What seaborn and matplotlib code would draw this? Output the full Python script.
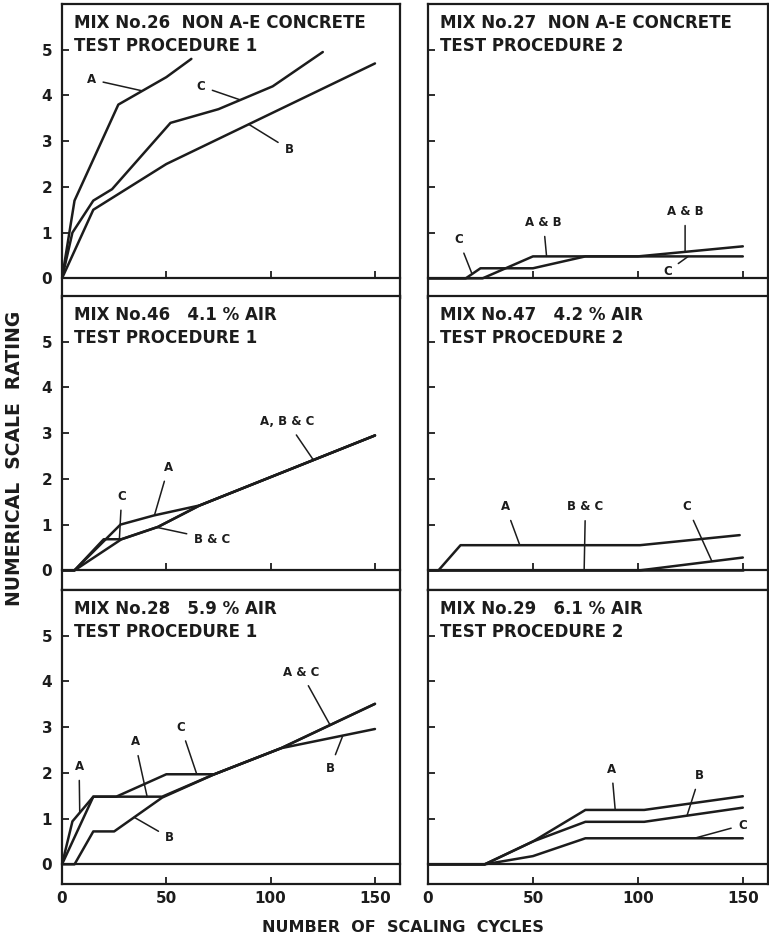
import numpy as np
import matplotlib
matplotlib.use("Agg")
import matplotlib.pyplot as plt
import seaborn as sns

# Scaling rating vs. number of freeze-thaw cycles, as (cycles, rating) pairs.
# Mix 26 - non air-entrained concrete, test procedure 1
mix26_a = [(0, 0), (6, 1.7), (27, 3.8), (50, 4.4), (56, 4.6), (62, 4.8)]
mix26_b = [(0, 0), (15, 1.5), (50, 2.5), (150, 4.7)]
mix26_c = [(0, 0), (5, 1.0), (15, 1.7), (24, 1.95), (52, 3.4), (75, 3.7), (101, 4.2), (125, 4.95)]

# Mix 27 - non air-entrained concrete, test procedure 2 (A and B coincide)
mix27_ab = [(0, 0), (26, 0), (50, 0.48), (100, 0.48), (150, 0.7)]
mix27_c = [(0, 0), (18, 0), (25, 0.22), (50, 0.22), (75, 0.48), (150, 0.48)]

# Mix 46 - 4.1 % air, test procedure 1
mix46_a = [(0, 0), (6, 0), (28, 1.0), (44, 1.2), (66, 1.42), (150, 2.95)]
mix46_b = [(0, 0), (6, 0), (28.5, 0.68), (46, 0.95), (66, 1.42), (150, 2.95)]
mix46_c = [(0, 0), (6, 0), (20, 0.68), (28.5, 0.68), (46, 0.95), (66, 1.42), (150, 2.95)]

# Mix 47 - 4.2 % air, test procedure 2
mix47_a = [(0, 0), (5, 0), (15.5, 0.55), (101, 0.55), (148.5, 0.77)]
mix47_b = [(0, 0), (150, 0)]
mix47_c = [(0, 0), (101, 0), (150, 0.28)]

# Mix 28 - 5.9 % air, test procedure 1
mix28_a = [(0, 0), (5, 0.94), (15, 1.48), (48, 1.48), (73, 1.97), (105, 2.54), (150, 3.51)]
mix28_b = [(0, 0), (6, 0), (15, 0.72), (25, 0.72), (48, 1.46), (73, 1.97), (105, 2.54), (150, 2.96)]
mix28_c = [(0, 0), (15, 1.48), (26, 1.48), (50, 1.97), (73, 1.97), (105, 2.54), (150, 3.51)]

# Mix 29 - 6.1 % air, test procedure 2
mix29_a = [(0, 0), (27, 0), (50, 0.5), (75, 1.19), (103, 1.19), (150, 1.49)]
mix29_b = [(0, 0), (27, 0), (50, 0.5), (75, 0.93), (103, 0.93), (150, 1.24)]
mix29_c = [(0, 0), (27, 0), (50, 0.18), (75, 0.57), (150, 0.57)]

panel_titles = [
    "MIX No.26  NON A-E CONCRETE\nTEST PROCEDURE 1",
    "MIX No.27  NON A-E CONCRETE\nTEST PROCEDURE 2",
    "MIX No.46   4.1 % AIR\nTEST PROCEDURE 1",
    "MIX No.47   4.2 % AIR\nTEST PROCEDURE 2",
    "MIX No.28   5.9 % AIR\nTEST PROCEDURE 1",
    "MIX No.29   6.1 % AIR\nTEST PROCEDURE 2",
]
y_ticks = [0, 1, 2, 3, 4, 5]
x_ticks = [0, 50, 100, 150]

INK = "#1c1c1c"
YMIN, YMAX = -0.43, 6.0
XMAX = 162

sns.set_theme(style="white")
plt.rcParams["font.family"] = ["DejaVu Sans"]
plt.rcParams["font.weight"] = "bold"
plt.rcParams["text.color"] = INK

fig = plt.figure(figsize=(7.69, 9.43), dpi=100)

col_left = [62 / 769, 428 / 769]
col_width = [338 / 769, 340 / 769]
row_bottom = [1 - 298 / 943, 1 - 590 / 943, 1 - 884 / 943]
row_height = 294 / 943

# each panel: series, then labels as (text, text_x, text_y, series, x on series)
panels = [
    ([mix26_a, mix26_b, mix26_c],
     [("A", 14, 4.35, mix26_a, 38.5), ("C", 66.5, 4.2, mix26_c, 85.5),
      ("B", 109, 2.82, mix26_b, 89.5)]),
    ([mix27_ab, mix27_c],
     [("C", 14.5, 0.85, mix27_c, 21), ("A & B", 55, 1.22, mix27_ab, 56.5),
      ("A & B", 122.5, 1.46, mix27_ab, 122.5), ("C", 114, 0.15, mix27_c, 124)]),
    ([mix46_a, mix46_b, mix46_c],
     [("A, B & C", 108, 3.25, mix46_a, 120.5), ("A", 51, 2.25, mix46_a, 44.3),
      ("C", 28.6, 1.62, mix46_c, 27.5), ("B & C", 72, 0.68, mix46_b, 45.4)]),
    ([mix47_a, mix47_b, mix47_c],
     [("A", 37, 1.39, mix47_a, 43.75), ("B & C", 75, 1.39, mix47_b, 74.4),
      ("C", 123.5, 1.39, mix47_c, 135.3)]),
    ([mix28_a, mix28_b, mix28_c],
     [("A", 8.2, 2.14, mix28_a, 8.5), ("A", 35, 2.68, mix28_a, 40.8),
      ("C", 57, 3.0, mix28_c, 64.6), ("B", 51.7, 0.58, mix28_b, 34.6),
      ("A & C", 114.5, 4.2, mix28_a, 128.5), ("B", 128.5, 2.1, mix28_b, 134.6)]),
    ([mix29_a, mix29_b, mix29_c],
     [("A", 87.5, 2.08, mix29_a, 89.2), ("B", 129.5, 1.94, mix29_b, 123.4),
      ("C", 150, 0.86, mix29_c, 126.9)]),
]

zero_pos = (0 - YMIN) / (YMAX - YMIN)

for i, (series, labels) in enumerate(panels):
    row, col = divmod(i, 2)
    ax = fig.add_axes([col_left[col], row_bottom[row], col_width[col], row_height])
    for s in series:
        xs = [p[0] for p in s]
        ys = [p[1] for p in s]
        sns.lineplot(x=xs, y=ys, ax=ax, color=INK, linewidth=1.8,
                     estimator=None, sort=False, legend=False)
    ax.set_xlim(0, XMAX)
    ax.set_ylim(YMIN, YMAX)
    ax.set_facecolor("white")
    for sp in ax.spines.values():
        sp.set_linewidth(1.6)
        sp.set_color(INK)
        sp.set_visible(True)

    ax.set_yticks(y_ticks)
    ax.tick_params(axis="y", direction="in", length=5, width=1.3, color=INK,
                   left=True, labelleft=(col == 0), labelsize=11, pad=7,
                   labelcolor=INK)

    # baseline at zero rating
    base = ax.secondary_xaxis(zero_pos)
    base.spines["bottom"].set_linewidth(1.6)
    base.spines["bottom"].set_color(INK)
    if row < 2:
        base.set_xticks(x_ticks[1:])
        base.tick_params(direction="in", length=5, width=1.3, color=INK,
                         labelbottom=False)
        ax.tick_params(axis="x", bottom=False, labelbottom=False)
    else:
        base.set_xticks([])
        ax.set_xticks(x_ticks)
        ax.tick_params(axis="x", direction="in", length=5, width=1.3, color=INK,
                       bottom=True, labelbottom=True, labelsize=11, pad=5,
                       labelcolor=INK)
        ax.set_xticklabels([str(t) for t in x_ticks])
    ax.set_xlabel("")
    ax.set_ylabel("")

    ax.text(0.035, 0.965, panel_titles[i], transform=ax.transAxes,
            ha="left", va="top", fontsize=12, fontweight="bold",
            linespacing=1.35, color=INK)

    for text, tx, ty, s, sx in labels:
        xs = [p[0] for p in s]
        ys = [p[1] for p in s]
        sy = float(np.interp(sx, xs, ys))
        ax.annotate(text, xy=(sx, sy), xytext=(tx, ty),
                    ha="center", va="center", fontsize=8.5, fontweight="bold",
                    color=INK,
                    arrowprops=dict(arrowstyle="-", color=INK, lw=1.1,
                                    shrinkA=3, shrinkB=0))

fig.text(15 / 769, 1 - 458 / 943, "NUMERICAL  SCALE  RATING", rotation=90,
         ha="center", va="center", fontsize=13.5, fontweight="bold", color=INK)
fig.text(403 / 769, 1 - 928 / 943, "NUMBER  OF  SCALING  CYCLES",
         ha="center", va="center", fontsize=11.5, fontweight="bold", color=INK)

fig.savefig("out.png", dpi=100, facecolor="white")
